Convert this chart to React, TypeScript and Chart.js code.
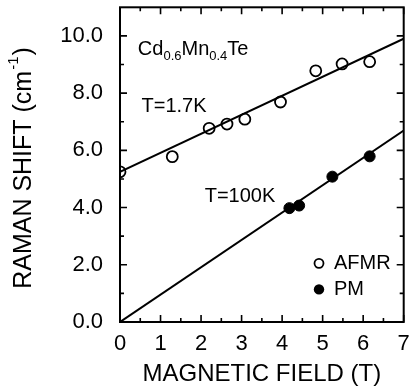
import React, { useEffect, useRef } from "react";
import { Chart, registerables } from "chart.js";

Chart.register(...registerables);

// ---- data ----
const fieldAFMR = [0, 1.29, 2.2, 2.64, 3.08, 3.96, 4.83, 5.48, 6.16];
const shiftAFMR = [5.25, 5.78, 6.77, 6.92, 7.09, 7.69, 8.78, 9.02, 9.1];
const fieldPM = [4.18, 4.42, 5.24, 6.16];
const shiftPM = [3.98, 4.07, 5.08, 5.79];
const fitField = [0, 7];
const fit17K = [5.25, 9.9];
const fit100K = [0, 6.69];
const xTickValues = [0, 1, 2, 3, 4, 5, 6, 7];
const yTickValues = [0, 2, 4, 6, 8, 10];
const xMinorValues = [0.5, 1.5, 2.5, 3.5, 4.5, 5.5, 6.5];
const yMinorValues = [1, 3, 5, 7, 9];

const FONT = "'Liberation Sans', Arial, Helvetica, sans-serif";

const pts = (xs: number[], ys: number[]) => xs.map((x, i) => ({ x, y: ys[i] }));

const decorPlugin = {
  id: "decor",
  afterDraw(chart: any) {
    const ctx = chart.ctx as CanvasRenderingContext2D;
    const { left, right, top, bottom } = chart.chartArea;
    const xs = chart.scales.x;
    const ys = chart.scales.y;
    ctx.save();
    ctx.strokeStyle = "#000";
    ctx.fillStyle = "#000";
    // frame
    ctx.lineWidth = 2;
    ctx.strokeRect(left, top, right - left, bottom - top);
    // ticks (inward, all four sides)
    ctx.lineWidth = 1.6;
    const major = 7, minor = 4;
    const drawX = (v: number, len: number) => {
      const px = xs.getPixelForValue(v);
      ctx.beginPath();
      ctx.moveTo(px, bottom);
      ctx.lineTo(px, bottom - len);
      ctx.moveTo(px, top);
      ctx.lineTo(px, top + len);
      ctx.stroke();
    };
    const drawY = (v: number, len: number) => {
      const py = ys.getPixelForValue(v);
      ctx.beginPath();
      ctx.moveTo(left, py);
      ctx.lineTo(left + len, py);
      ctx.moveTo(right, py);
      ctx.lineTo(right - len, py);
      ctx.stroke();
    };
    xTickValues.forEach((v) => drawX(v, major));
    xMinorValues.forEach((v) => drawX(v, minor));
    yTickValues.forEach((v) => drawY(v, major));
    yMinorValues.forEach((v) => drawY(v, minor));

    // y axis title with superscript
    const big = `25px ${FONT}`;
    const sup = `15px ${FONT}`;
    const p1 = "RAMAN SHIFT (cm";
    const p2 = "-1";
    const p3 = ")";
    ctx.font = big;
    const w1 = ctx.measureText(p1).width;
    const w3 = ctx.measureText(p3).width;
    ctx.font = sup;
    const w2 = ctx.measureText(p2).width;
    const total = w1 + w2 + 2 + w3;
    ctx.translate(24, 168);
    ctx.rotate(-Math.PI / 2);
    ctx.textBaseline = "middle";
    ctx.textAlign = "left";
    let cx = -total / 2;
    ctx.font = big;
    ctx.fillText(p1, cx, 0);
    cx += w1 + 1;
    ctx.font = sup;
    ctx.fillText(p2, cx, -10);
    cx += w2 + 1;
    ctx.font = big;
    ctx.fillText(p3, cx, 0);
    ctx.setTransform(1, 0, 0, 1, 0, 0);

    // annotations
    ctx.textAlign = "left";
    ctx.textBaseline = "middle";
    ctx.font = `20px ${FONT}`;
    ctx.fillText("T=1.7K", xs.getPixelForValue(0.53), ys.getPixelForValue(7.52));
    ctx.fillText("T=100K", xs.getPixelForValue(2.09), ys.getPixelForValue(4.4));

    // compound label with subscripts
    ctx.textBaseline = "alphabetic";
    let tx = xs.getPixelForValue(0.44);
    const ty = ys.getPixelForValue(9.32);
    const parts: [string, boolean][] = [
      ["Cd", false],
      ["0.6", true],
      ["Mn", false],
      ["0.4", true],
      ["Te", false],
    ];
    parts.forEach(([t, sub]) => {
      ctx.font = sub ? `13px ${FONT}` : `20px ${FONT}`;
      ctx.fillText(t, tx, sub ? ty + 5 : ty);
      tx += ctx.measureText(t).width;
    });

    // legend
    ctx.textBaseline = "middle";
    ctx.font = `20px ${FONT}`;
    const lx = xs.getPixelForValue(4.91);
    const ly1 = ys.getPixelForValue(2.05);
    const ly2 = ys.getPixelForValue(1.14);
    const tlx = xs.getPixelForValue(5.28);
    ctx.lineWidth = 1.8;
    ctx.beginPath();
    ctx.arc(lx, ly1, 4.5, 0, Math.PI * 2);
    ctx.stroke();
    ctx.fillText("AFMR", tlx, ly1);
    ctx.beginPath();
    ctx.arc(lx, ly2, 5.2, 0, Math.PI * 2);
    ctx.fill();
    ctx.fillText("PM", tlx, ly2);
    ctx.restore();
  },
};

export default function App() {
  const ref = useRef<HTMLCanvasElement | null>(null);
  useEffect(() => {
    if (!ref.current) return;
    Chart.defaults.font.family = FONT;
    Chart.defaults.color = "#000";
    const chart = new Chart(ref.current, {
      type: "scatter",
      data: {
        datasets: [
          {
            label: "fit 1.7K",
            data: pts(fitField, fit17K),
            showLine: true,
            pointRadius: 0,
            borderColor: "#000",
            borderWidth: 2,
          },
          {
            label: "fit 100K",
            data: pts(fitField, fit100K),
            showLine: true,
            pointRadius: 0,
            borderColor: "#000",
            borderWidth: 2,
          },
          {
            label: "AFMR",
            data: pts(fieldAFMR, shiftAFMR),
            pointRadius: 5.5,
            pointBorderWidth: 1.8,
            borderColor: "#000",
            backgroundColor: "rgba(0,0,0,0)",
          },
          {
            label: "PM",
            data: pts(fieldPM, shiftPM),
            pointRadius: 5.5,
            pointBorderWidth: 1,
            borderColor: "#000",
            backgroundColor: "#000",
          },
        ],
      },
      options: {
        animation: false,
        responsive: true,
        maintainAspectRatio: false,
        layout: { padding: { top: 6, right: 6, left: 0, bottom: 0 } },
        plugins: { legend: { display: false }, tooltip: { enabled: false } },
        scales: {
          x: {
            type: "linear",
            min: 0,
            max: 7,
            afterBuildTicks: (s: any) => {
              s.ticks = xTickValues.map((v) => ({ value: v }));
            },
            afterFit: (s: any) => {
              s.height = 70;
              s.paddingLeft = 0;
              s.paddingRight = 0;
              s.paddingTop = 0;
              s.paddingBottom = 0;
            },
            grid: { display: false, drawTicks: false },
            border: { display: false },
            ticks: { font: { size: 22 }, padding: 9, maxRotation: 0, color: "#000" },
            title: {
              display: true,
              text: "MAGNETIC FIELD (T)",
              font: { size: 24 },
              color: "#000",
              padding: { top: 0, bottom: 3 },
            },
          },
          y: {
            type: "linear",
            min: 0,
            max: 11,
            afterBuildTicks: (s: any) => {
              s.ticks = yTickValues.map((v) => ({ value: v }));
            },
            afterFit: (s: any) => {
              s.width = 120;
              s.paddingLeft = 0;
              s.paddingRight = 0;
              s.paddingTop = 0;
              s.paddingBottom = 0;
            },
            grid: { display: false, drawTicks: false },
            border: { display: false },
            ticks: {
              font: { size: 22 },
              padding: 17,
              color: "#000",
              callback: (v: any) => Number(v).toFixed(1),
            },
          },
        },
      },
      plugins: [decorPlugin],
    });
    return () => chart.destroy();
  }, []);
  return (
    <div style={{ position: "fixed", left: 0, top: 0, width: 411, height: 392, background: "#fff" }}>
      <canvas ref={ref} />
    </div>
  );
}
